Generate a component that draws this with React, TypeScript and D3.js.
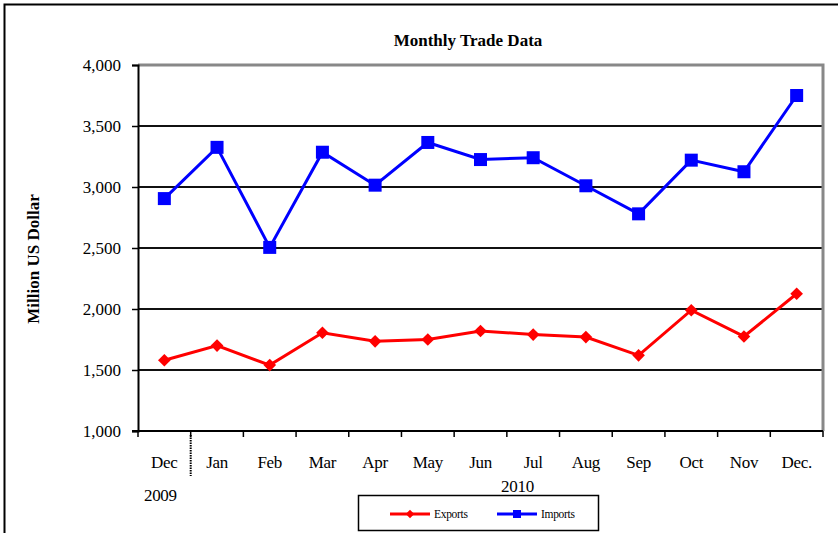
import React, { useEffect, useRef } from "react";
import * as d3 from "d3";

const months = ["Dec", "Jan", "Feb", "Mar", "Apr", "May", "Jun", "Jul", "Aug", "Sep", "Oct", "Nov", "Dec."];
const exportsData = [1580, 1700, 1540, 1805, 1735, 1750, 1820, 1790, 1770, 1620, 1990, 1775, 2125];
const importsData = [2905, 3325, 2505, 3285, 3015, 3365, 3225, 3240, 3010, 2780, 3220, 3125, 3750];
const yTicks = [1000, 1500, 2000, 2500, 3000, 3500, 4000];

const App = () => {
  const ref = useRef<SVGSVGElement>(null);
  const W = 838, H = 533;
  const margin = { top: 65, right: 15, bottom: 102, left: 138 };
  const width = W - margin.left - margin.right;
  const height = H - margin.top - margin.bottom;

  useEffect(() => {
    const root = d3.select(ref.current);
    root.selectAll("*").remove();
    const font = "'Liberation Serif', 'Times New Roman', serif";

    // outer frame
    root.append("rect").attr("x", 4.5).attr("y", 4.5).attr("width", W + 10).attr("height", H + 10)
      .attr("fill", "white").attr("stroke", "black").attr("stroke-width", 2);

    root.append("text").attr("x", 468).attr("y", 46).attr("text-anchor", "middle")
      .attr("font-family", font).attr("font-weight", "bold").attr("font-size", 17)
      .text("Monthly Trade Data");

    root.append("text").attr("transform", "translate(39,259) rotate(-90)").attr("text-anchor", "middle")
      .attr("font-family", font).attr("font-weight", "bold").attr("font-size", 17)
      .text("Million US Dollar");

    const g = root.append("g").attr("transform", `translate(${margin.left},${margin.top})`);

    const x = d3.scaleBand().domain(months.map((m, i) => String(i))).range([0, width]);
    const y = d3.scaleLinear().domain([1000, 4000]).range([height, 0]);

    // gridlines
    g.selectAll(".grid").data(yTicks.slice(1, -1)).enter().append("line")
      .attr("x1", 0).attr("x2", width).attr("y1", d => Math.round(y(d))).attr("y2", d => Math.round(y(d)))
      .attr("stroke", "#111").attr("stroke-width", 2).attr("shape-rendering", "crispEdges");

    // top & right plot border (gray)
    g.append("path").attr("d", `M0,${y(4000)}H${width}V${height}`)
      .attr("fill", "none").attr("stroke", "#888").attr("stroke-width", 3);

    // y axis
    const yAxis = g.append("g").call(d3.axisLeft(y).tickValues(yTicks).tickSize(6).tickFormat(d3.format(",")));
    yAxis.select(".domain").attr("stroke-width", 2);
    yAxis.selectAll("line").attr("stroke-width", 1.5);
    yAxis.selectAll("text").attr("font-family", font).attr("font-size", 17).attr("fill", "black").attr("x", -17);

    // x axis with ticks at band boundaries
    g.append("line").attr("x1", -6).attr("x2", width).attr("y1", height).attr("y2", height)
      .attr("stroke", "black").attr("stroke-width", 2);
    const bounds = d3.range(months.length + 1).map(i => i * x.bandwidth());
    g.selectAll(".xt").data(bounds).enter().append("line")
      .attr("x1", d => d).attr("x2", d => d).attr("y1", height).attr("y2", height + 6)
      .attr("stroke", "black").attr("stroke-width", 1.5);
    g.selectAll(".xl").data(months).enter().append("text")
      .attr("x", (d, i) => (x(String(i)) as number) + x.bandwidth() / 2)
      .attr("y", height + 37).attr("text-anchor", "middle")
      .attr("font-family", font).attr("font-size", 17).attr("letter-spacing", -0.3).text(d => d);

    // year separator
    g.append("line").attr("x1", x.bandwidth()).attr("x2", x.bandwidth()).attr("y1", height + 4).attr("y2", height + 45)
      .attr("stroke", "black").attr("stroke-width", 2).attr("stroke-dasharray", "1.5,1");
    g.append("text").attr("x", x.bandwidth() / 2 - 4).attr("y", height + 70).attr("text-anchor", "middle")
      .attr("font-family", font).attr("font-size", 17).attr("letter-spacing", -0.3).text("2009");
    g.append("text").attr("x", (x("6") as number) + x.bandwidth() / 2 + 37).attr("y", height + 61).attr("text-anchor", "middle")
      .attr("font-family", font).attr("font-size", 17).attr("letter-spacing", -0.3).text("2010");

    const cx = (i: number) => (x(String(i)) as number) + x.bandwidth() / 2;
    const line = d3.line<number>().x((d, i) => cx(i)).y(d => y(d));

    g.append("path").datum(exportsData).attr("d", line).attr("fill", "none").attr("stroke", "#ff0000").attr("stroke-width", 3);
    g.append("path").datum(importsData).attr("d", line).attr("fill", "none").attr("stroke", "#0000ff").attr("stroke-width", 3);

    const diamond = d3.symbol().type(d3.symbolSquare).size(80);
    g.selectAll(".exp").data(exportsData).enter().append("path")
      .attr("d", diamond).attr("fill", "#ff0000")
      .attr("transform", (d, i) => `translate(${cx(i)},${y(d)}) rotate(45)`);
    g.selectAll(".imp").data(importsData).enter().append("rect")
      .attr("x", (d, i) => cx(i) - 6.5).attr("y", d => y(d) - 6.5)
      .attr("width", 13).attr("height", 13).attr("fill", "#0000ff");

    // legend
    const lg = root.append("g");
    lg.append("rect").attr("x", 358.5).attr("y", 495.5).attr("width", 240).attr("height", 35)
      .attr("fill", "white").attr("stroke", "black").attr("stroke-width", 1.5);
    lg.append("line").attr("x1", 390).attr("x2", 430).attr("y1", 514).attr("y2", 514).attr("stroke", "#ff0000").attr("stroke-width", 3);
    lg.append("path").attr("d", d3.symbol().type(d3.symbolSquare).size(36)).attr("fill", "#ff0000")
      .attr("transform", "translate(410,514) rotate(45)");
    lg.append("text").attr("x", 434).attr("y", 518).attr("font-family", font).attr("font-size", 11.5).attr("letter-spacing", -0.3).text("Exports");
    lg.append("line").attr("x1", 497).attr("x2", 537).attr("y1", 514).attr("y2", 514).attr("stroke", "#0000ff").attr("stroke-width", 3);
    lg.append("rect").attr("x", 513).attr("y", 510).attr("width", 8).attr("height", 8).attr("fill", "#0000ff");
    lg.append("text").attr("x", 541).attr("y", 518).attr("font-family", font).attr("font-size", 11.5).attr("letter-spacing", -0.3).text("Imports");
  }, []);

  return (
    <svg ref={ref} width={W} height={H} style={{ position: "absolute", left: 0, top: 0, background: "white" }} />
  );
};

export default App;
